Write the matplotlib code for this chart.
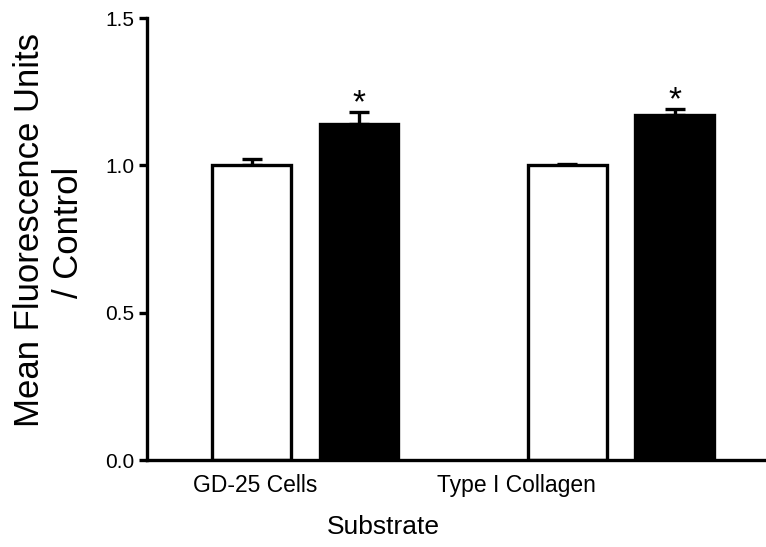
import matplotlib
matplotlib.use('Agg')
import numpy as np
import matplotlib.pyplot as plt

plt.rcParams['font.family'] = ['Liberation Sans', 'DejaVu Sans']

# data
substrates = ['GD-25 Cells', 'Type I Collagen']
control = [1.00, 1.00]
control_err = [0.02, 0.006]
treated = [1.14, 1.17]
treated_err = [0.04, 0.02]
significant = [True, True]
y_ticks = [0.0, 0.5, 1.0, 1.5]

fig = plt.figure(figsize=(7.66, 5.47), dpi=100)
ax = fig.add_axes([0.192, 0.159, 0.808, 0.808])

x = np.arange(len(substrates))
w = 0.25
off = 0.17
lw = 2.4

ax.bar(x - off, control, w, color='white', edgecolor='black', linewidth=lw, zorder=2)
ax.bar(x + off, treated, w, color='black', edgecolor='black', linewidth=lw, zorder=2)

ax.errorbar(x - off, control, yerr=[np.zeros(2), control_err], fmt='none',
            ecolor='black', elinewidth=lw, capsize=7, capthick=lw, zorder=1)
ax.errorbar(x + off, treated, yerr=[np.zeros(2), treated_err], fmt='none',
            ecolor='black', elinewidth=lw, capsize=7, capthick=lw, zorder=1)

# significance stars
for i, sig in enumerate(significant):
    if sig:
        ax.annotate('*', (x[i] + off, treated[i] + treated_err[i]), xytext=(0, -5),
                    textcoords='offset points', ha='center', va='bottom',
                    fontsize=24)

ax.set_xlim(-0.502, 1.46)
ax.set_ylim(0, 1.5)
ax.set_yticks(y_ticks)
ax.set_yticklabels([f'{v:.1f}' for v in y_ticks], fontsize=15)

# category labels sit a bit left of the bar pairs in the original
ax.set_xticks([-0.16, 0.67])
ax.set_xticklabels(substrates, fontsize=16.5)
ax.tick_params(axis='x', length=0, pad=10)
ax.tick_params(axis='y', length=6, width=lw, pad=3)

for s in ['top', 'right']:
    ax.spines[s].set_visible(False)
for s in ['left', 'bottom']:
    ax.spines[s].set_linewidth(lw)

ax.set_xlabel('Substrate', fontsize=19)
ax.xaxis.set_label_coords(0.381, -0.125)
fig.text(30 / 766, 1 - 230 / 547, 'Mean Fluorescence Units', rotation=90,
         ha='center', va='center', fontsize=25)
fig.text(68 / 766, 1 - 232 / 547, '/ Control', rotation=90,
         ha='center', va='center', fontsize=25)

fig.savefig('out.png', dpi=100)
